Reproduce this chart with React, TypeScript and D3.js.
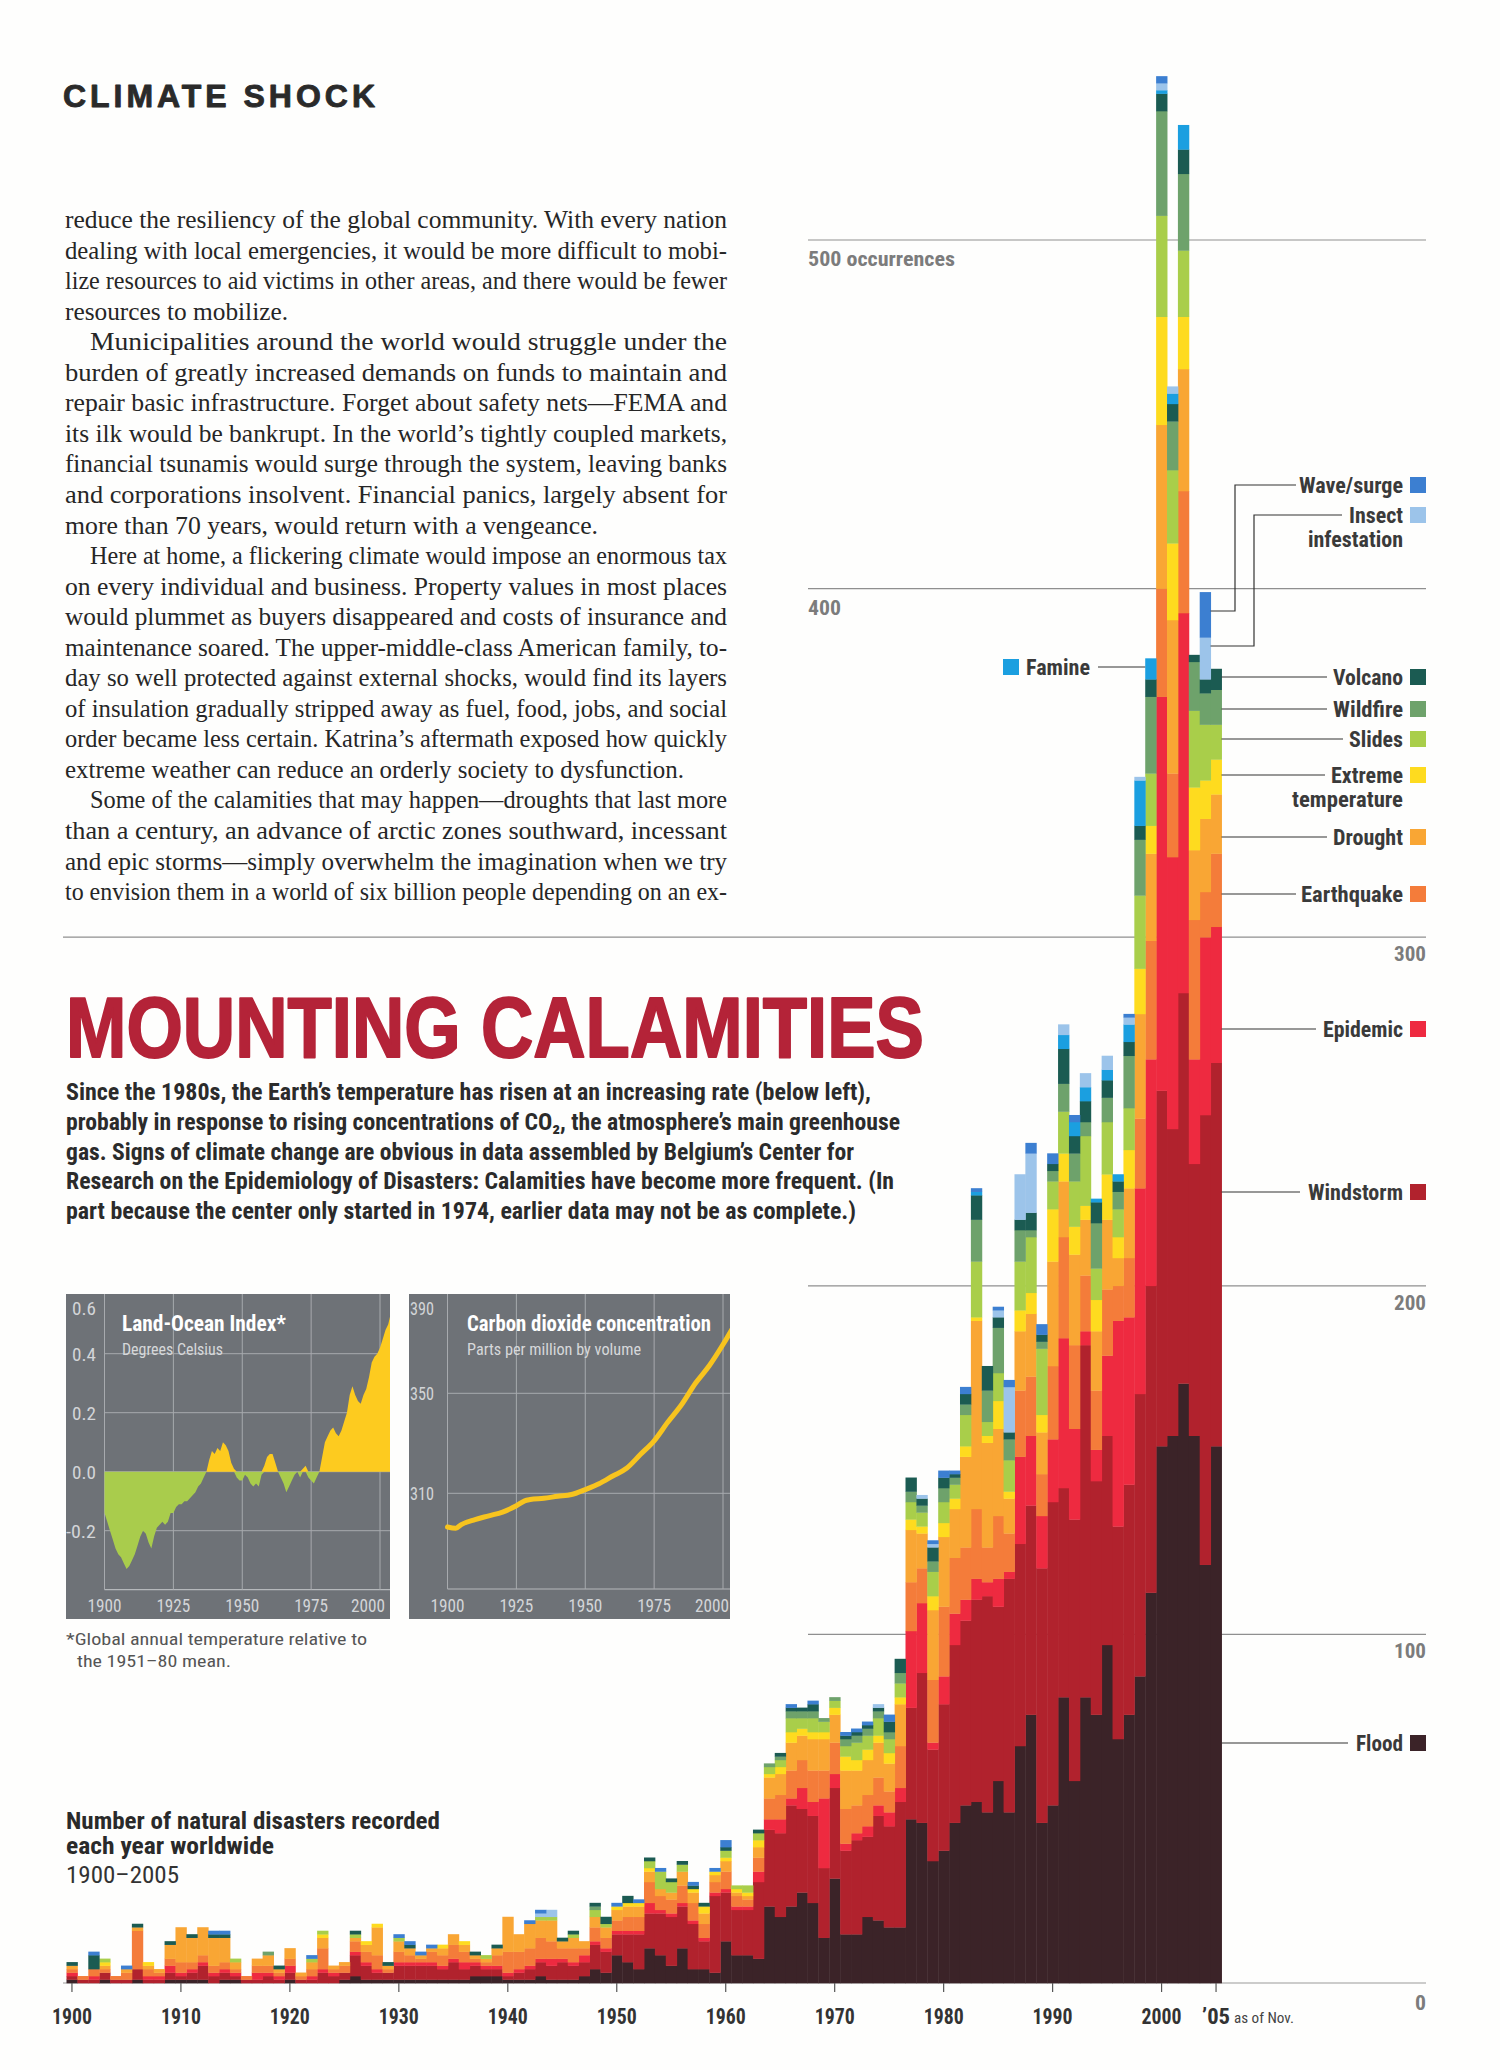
import React from "react";
import * as d3 from "d3";

// ---------------- DATA ----------------
const years: number[] = d3.range(1900, 2006);

const flood = [
  1,0,0,1,0,0,1,0,0,1,
  1,1,1,0,1,1,0,0,0,0,
  1,0,0,0,0,1,2,1,1,1,
  1,1,1,1,1,1,1,2,2,2,
  1,1,1,2,1,1,1,2,4,3,
  8,6,4,10,8,5,10,4,4,3,
  12,8,8,7,22,19,22,26,23,13,
  30,14,14,19,18,16,16,47,46,35,
  38,46,51,52,49,58,49,68,77,46,
  51,82,58,82,77,97,70,77,88,112,
  154,157,172,157,120,154,
];
const windstorm = [
  1,1,1,2,1,1,3,1,1,2,
  1,2,4,2,2,1,1,1,2,1,
  2,1,1,3,2,2,6,4,2,2,
  4,4,4,4,3,5,3,3,2,2,
  1,2,3,4,4,5,4,4,7,6,
  6,8,10,10,12,14,12,13,8,22,
  14,13,13,22,22,24,29,24,25,20,
  26,24,27,23,30,29,36,32,43,32,
  42,51,53,58,62,50,67,58,60,73,
  87,60,75,101,67,60,61,66,81,88,
  102,88,112,78,129,110,
];
const epidemic = [
  1,0,1,0,0,0,0,1,1,2,
  1,1,1,1,1,1,0,2,1,1,
  2,0,1,1,1,0,1,1,1,0,
  1,1,1,1,1,1,2,1,1,1,
  1,1,1,1,2,1,1,2,1,1,
  1,1,1,3,1,1,1,1,1,1,
  1,1,1,3,3,4,2,6,4,20,
  4,2,2,3,3,4,4,22,20,2,
  8,9,6,6,4,8,2,25,20,15,
  18,43,26,4,9,23,59,48,59,65,
  113,78,109,30,51,39,
];
const earthquake = [
  1,1,2,1,1,2,11,2,1,2,
  3,2,2,2,2,1,1,2,2,1,
  2,1,2,6,1,2,3,3,4,1,
  3,2,1,3,3,4,3,1,1,3,
  6,5,5,6,5,3,4,2,4,3,
  3,4,4,6,4,4,5,5,4,3,
  5,3,2,4,6,7,8,8,9,8,
  9,10,8,9,8,6,12,14,10,18,
  20,16,15,20,10,18,11,19,17,12,
  21,29,24,16,17,19,10,17,20,34,
  31,24,35,40,13,21,
];
const drought = [
  1,0,0,1,0,1,1,1,1,4,
  10,7,8,8,7,2,0,2,3,1,
  3,1,2,3,1,1,1,2,8,1,
  3,2,1,1,2,3,2,1,1,2,
  10,5,7,5,6,2,3,2,3,3,
  3,3,3,3,2,2,4,3,3,2,
  3,1,1,3,6,6,8,7,9,9,
  8,11,10,10,10,8,12,15,10,20,
  20,14,26,54,30,25,10,17,18,12,
  30,16,26,16,17,20,8,20,30,25,
  47,44,35,20,21,17,
];
const extremeTemp = [
  0,0,0,1,0,0,0,1,0,0,
  0,0,0,0,0,0,0,0,0,0,
  0,0,0,1,0,0,0,1,1,0,
  0,0,0,0,1,0,1,0,0,0,
  0,0,0,0,0,0,0,0,0,0,
  1,1,1,1,0,0,0,1,2,1,
  1,1,1,2,1,2,3,2,2,2,
  2,4,3,3,2,3,2,3,2,4,
  4,3,3,1,2,8,2,6,6,5,
  15,8,8,4,9,13,6,11,13,8,
  31,22,15,18,11,10,
];
const slides = [
  0,0,0,1,0,0,0,0,0,0,
  0,0,0,0,0,1,0,0,0,0,
  0,0,1,1,0,0,1,0,0,0,
  1,0,0,0,0,0,0,0,1,0,
  0,0,0,1,1,0,1,0,2,1,
  0,0,0,2,5,3,2,0,0,0,
  2,1,2,2,2,2,4,3,4,3,
  2,3,5,4,5,4,4,5,4,7,
  6,4,9,16,4,8,9,14,16,19,
  8,12,13,20,9,15,8,12,21,15,
  29,21,19,22,16,10,
];
const wildfire = [
  0,0,0,0,0,0,0,0,0,0,
  0,0,0,0,0,0,0,0,1,0,
  0,0,0,0,0,0,0,0,0,0,
  0,0,0,0,0,0,0,0,0,0,
  0,0,0,0,0,0,0,0,1,0,
  0,0,0,0,0,0,0,0,0,0,
  0,0,0,0,1,1,2,2,2,1,
  1,2,2,2,2,2,3,3,2,3,
  4,2,3,12,9,13,6,9,2,2,
  3,8,8,4,13,7,5,15,16,22,
  30,14,22,14,9,10,
];
const volcano = [
  1,0,4,0,0,0,1,0,0,1,
  0,1,0,1,1,0,0,0,0,1,
  0,0,0,0,0,0,1,0,0,1,
  0,1,0,0,0,0,0,1,0,1,
  0,0,0,0,0,1,1,0,1,2,
  0,2,0,1,0,1,1,1,1,0,
  1,0,0,1,0,1,1,1,2,0,
  0,1,1,1,1,3,4,4,2,4,
  3,1,3,7,7,3,2,3,5,2,
  2,10,5,6,6,5,3,4,4,5,
  5,5,7,2,4,6,
];
const famine = [
  0,0,0,0,0,0,0,0,0,0,
  0,0,0,0,0,0,0,0,0,0,
  0,0,0,0,0,0,0,0,0,0,
  0,0,0,0,0,0,0,0,0,0,
  0,0,0,0,0,0,0,0,0,0,
  0,0,0,0,0,0,0,0,0,0,
  0,0,0,0,0,0,0,0,0,0,
  0,0,0,0,0,0,0,0,0,0,
  0,0,0,1,0,0,0,0,0,0,
  0,4,4,4,1,3,2,5,13,6,
  1,3,7,0,0,0,
];
const insect = [
  0,0,0,0,0,0,0,0,0,0,
  0,0,0,0,0,0,0,0,0,0,
  0,0,0,0,0,0,0,0,0,0,
  0,0,0,0,0,0,0,0,0,0,
  0,0,0,1,2,0,0,0,0,0,
  0,0,0,0,0,0,0,0,0,0,
  0,0,0,0,0,0,0,0,0,0,
  0,0,0,0,1,0,0,0,1,1,
  0,0,0,0,0,2,13,13,17,0,
  0,3,0,4,0,4,0,2,1,0,
  2,2,0,0,12,0,
];
const wave = [
  0,0,1,0,0,1,0,0,0,0,
  0,0,0,1,1,0,0,0,0,0,
  0,0,1,0,0,0,0,0,0,0,
  1,1,1,1,0,0,0,0,0,0,
  0,0,1,1,0,0,0,0,0,0,
  1,0,1,0,1,0,0,1,0,1,
  2,0,0,0,0,0,1,0,1,0,
  0,1,1,1,0,2,0,0,0,1,
  2,1,2,1,0,1,2,0,3,3,
  3,0,2,0,0,0,0,1,0,0,
  2,0,0,0,13,0,
];

const seriesKeys = ["flood","windstorm","epidemic","earthquake","drought","extremeTemp","slides","wildfire","volcano","famine","insect","wave"];
const seriesValues = [flood, windstorm, epidemic, earthquake, drought, extremeTemp, slides, wildfire, volcano, famine, insect, wave];
const seriesColors = ["#3b2328","#b1222d","#ee2a40","#f47c3a","#f9a634","#fedb1f","#a9ce4a","#6ea26b","#1b5b52","#1b9fe0","#9cc4ea","#3c7fd1"];

const gridValues = [100, 200, 300, 400, 500];
const decadeTicks = [1900,1910,1920,1930,1940,1950,1960,1970,1980,1990,2000,2005];

// Land-Ocean temperature index (deg C), 1900-2004
const tempYears: number[] = d3.range(1900, 2005);
const tempValues = [
  -0.14,-0.17,-0.20,-0.23,-0.26,-0.28,-0.29,-0.31,-0.33,-0.32,
  -0.30,-0.28,-0.25,-0.22,-0.20,-0.21,-0.24,-0.26,-0.22,-0.19,
  -0.18,-0.17,-0.18,-0.17,-0.14,-0.14,-0.12,-0.11,-0.11,-0.10,
  -0.10,-0.09,-0.08,-0.07,-0.05,-0.04,-0.02,0.00,0.04,0.07,
  0.06,0.08,0.07,0.10,0.09,0.07,0.03,0.01,-0.02,-0.03,
  -0.03,-0.01,-0.02,-0.04,-0.05,-0.04,-0.05,-0.01,0.02,0.05,
  0.06,0.06,0.03,0.00,-0.02,-0.04,-0.07,-0.05,-0.03,-0.01,
  0.00,-0.02,0.01,0.02,-0.02,-0.03,-0.04,-0.02,0.00,0.05,
  0.10,0.12,0.14,0.15,0.13,0.12,0.14,0.17,0.20,0.26,
  0.29,0.26,0.24,0.23,0.26,0.28,0.32,0.37,0.39,0.40,
  0.42,0.45,0.48,0.50,0.54,
];
const tempTicks = [0.4, 0.2, 0.0, -0.2];
const tempLabelValues = [0.6, 0.4, 0.2, 0.0, -0.2];
const tempTickLabels = ["0.6","0.4","0.2","0.0","-0.2"];

// CO2 concentration (ppm)
const co2Years = [1900,1903,1905,1910,1915,1920,1925,1928,1930,1935,1940,1945,1950,1955,1960,1965,1970,1975,1980,1985,1990,1995,2000,2004];
const co2Values = [296.5,296.0,297.5,299.5,301.0,302.5,305.0,307.0,307.5,308.0,308.8,309.5,311.5,313.8,316.9,320.0,325.5,331.0,338.5,345.5,354.0,361.0,369.5,377.0];
const co2Ticks = [390, 350, 310];
const smallYearTicks = [1900, 1925, 1950, 1975, 2000];

// ---------------- TEXT ----------------
const bodyLines: [string, number, number][] = [
  ["reduce the resiliency of the global community. With every nation", 0, 662],
  ["dealing with local emergencies, it would be more difficult to mobi-", 0, 662],
  ["lize resources to aid victims in other areas, and there would be fewer", 0, 662],
  ["resources to mobilize.", 0, 223],
  ["Municipalities around the world would struggle under the", 1, 637],
  ["burden of greatly increased demands on funds to maintain and", 0, 662],
  ["repair basic infrastructure. Forget about safety nets\u2014FEMA and", 0, 662],
  ["its ilk would be bankrupt. In the world\u2019s tightly coupled markets,", 0, 662],
  ["financial tsunamis would surge through the system, leaving banks", 0, 662],
  ["and corporations insolvent. Financial panics, largely absent for", 0, 662],
  ["more than 70 years, would return with a vengeance.", 0, 533],
  ["Here at home, a flickering climate would impose an enormous tax", 1, 637],
  ["on every individual and business. Property values in most places", 0, 662],
  ["would plummet as buyers disappeared and costs of insurance and", 0, 662],
  ["maintenance soared. The upper-middle-class American family, to-", 0, 662],
  ["day so well protected against external shocks, would find its layers", 0, 662],
  ["of insulation gradually stripped away as fuel, food, jobs, and social", 0, 662],
  ["order became less certain. Katrina\u2019s aftermath exposed how quickly", 0, 662],
  ["extreme weather can reduce an orderly society to dysfunction.", 0, 619],
  ["Some of the calamities that may happen\u2014droughts that last more", 1, 637],
  ["than a century, an advance of arctic zones southward, incessant", 0, 662],
  ["and epic storms\u2014simply overwhelm the imagination when we try", 0, 662],
  ["to envision them in a world of six billion people depending on an ex-", 0, 662],
];

const subtitleLines: [string, number][] = [
  ["Since the 1980s, the Earth\u2019s temperature has risen at an increasing rate (below left),", 805],
  ["probably in response to rising concentrations of CO\u2082, the atmosphere\u2019s main greenhouse", 834],
  ["gas. Signs of climate change are obvious in data assembled by Belgium\u2019s Center for", 788],
  ["Research on the Epidemiology of Disasters: Calamities have become more frequent. (In", 828],
  ["part because the center only started in 1974, earlier data may not be as complete.)", 790],
];

const SERIF = "'Liberation Serif','Times New Roman',serif";
const SANS = "'Liberation Sans',Arial,sans-serif";
const COND = "'Liberation Sans Narrow','Roboto Condensed','DejaVu Sans Condensed','Arial Narrow','Liberation Sans',sans-serif";

type TP = { x: number; y: number; w?: number; size: number; weight?: string | number; fill?: string; family?: string; anchor?: "start" | "middle" | "end"; adjust?: "spacing" | "spacingAndGlyphs"; stroke?: number; children: React.ReactNode };
function T({ x, y, w, size, weight = "normal", fill = "#333", family = COND, anchor = "start", adjust = "spacingAndGlyphs", stroke, children }: TP) {
  return (
    <text x={x} y={y} fontSize={size} fontWeight={weight} fill={fill} fontFamily={family} textAnchor={anchor}
      textLength={w} lengthAdjust={w ? adjust : undefined}
      stroke={stroke ? fill : undefined} strokeWidth={stroke} strokeLinejoin="round"
      style={{ fontStretch: "condensed" }}>
      {children}
    </text>
  );
}

export default function App() {
  // main chart scales
  const x = d3.scaleBand<number>().domain(years).range([66.5, 1221.5]).paddingInner(0).paddingOuter(0);
  const y = d3.scaleLinear().domain([0, 500]).range([1983, 240]);
  const bw = x.bandwidth();
  const cx = (yr: number) => (x(yr) as number) + bw / 2;

  const rows = years.map((yr, i) => {
    const r: Record<string, number> = { year: yr };
    seriesKeys.forEach((k, j) => { r[k] = seriesValues[j][i]; });
    return r;
  });
  const stacked = d3.stack<Record<string, number>>().keys(seriesKeys)(rows);

  // small chart 1
  const xT = d3.scaleLinear().domain([1900, 2000]).range([104.5, 380]);
  const yT = d3.scaleLinear().domain([0, 0.2]).range([1471.7, 1412.7]);
  const tData = tempYears.map((yr, i) => ({ yr, v: tempValues[i] }));
  const areaPos = d3.area<{ yr: number; v: number }>().x(d => xT(d.yr)).y0(yT(0)).y1(d => yT(Math.max(0, d.v)));
  const areaNeg = d3.area<{ yr: number; v: number }>().x(d => xT(d.yr)).y0(yT(0)).y1(d => yT(Math.min(0, d.v)));

  // small chart 2
  const xC = d3.scaleLinear().domain([1900, 2000]).range([447.5, 723]);
  const yC = d3.scaleLinear().domain([310, 350]).range([1493.3, 1393.3]);
  const co2Line = d3.line<number>().x((_, i) => xC(co2Years[i])).y(d => yC(d)).curve(d3.curveMonotoneX);

  const legendRight = [
    { lines: ["Wave/surge"], ws: [104], y: 485, color: seriesColors[11] },
    { lines: ["Insect", "infestation"], ws: [54, 95], y: 515, color: seriesColors[10] },
    { lines: ["Volcano"], ws: [70], y: 677, color: seriesColors[8] },
    { lines: ["Wildfire"], ws: [70], y: 709, color: seriesColors[7] },
    { lines: ["Slides"], ws: [54], y: 739, color: seriesColors[6] },
    { lines: ["Extreme", "temperature"], ws: [72, 111], y: 775, color: seriesColors[5] },
    { lines: ["Drought"], ws: [70], y: 837, color: seriesColors[4] },
    { lines: ["Earthquake"], ws: [102], y: 894, color: seriesColors[3] },
    { lines: ["Epidemic"], ws: [80], y: 1029, color: seriesColors[2] },
    { lines: ["Windstorm"], ws: [95], y: 1192, color: seriesColors[1] },
    { lines: ["Flood"], ws: [47], y: 1743, color: seriesColors[0] },
  ];
  const barRight = (x(2005) as number) + bw;
  const leader = [
    { y: 677, x2: 1327 }, { y: 709, x2: 1327 }, { y: 739, x2: 1343 }, { y: 775, x2: 1325 },
    { y: 837, x2: 1327 }, { y: 894, x2: 1296 }, { y: 1029, x2: 1316 }, { y: 1192, x2: 1300 }, { y: 1743, x2: 1348 },
  ];
  const edge2004 = (x(2004) as number) + bw;

  return (
    <div style={{ position: "absolute", left: 0, top: 0, width: 1500, height: 2070, background: "#fff" }}>
      <svg width={1500} height={2070} viewBox="0 0 1500 2070" style={{ display: "block" }}>
        <rect x={0} y={0} width={1500} height={2070} fill="#fefefd" />
        <defs>
          <clipPath id="p1"><rect x={66} y={1294} width={324} height={325} /></clipPath>
          <clipPath id="p2"><rect x={409} y={1294} width={321} height={325} /></clipPath>
        </defs>

        {/* header */}
        <T x={63} y={107} w={312} size={32} weight="bold" family={SANS} fill="#2a2a2a" adjust="spacing" stroke={0.9}>CLIMATE SHOCK</T>

        {/* body text */}
        {bodyLines.map(([s, ind, w], i) => (
          <text key={i} x={ind ? 90 : 65} y={228 + i * 30.55} fontSize={24.5} fontFamily={SERIF} fill="#262626"
            textLength={w} lengthAdjust="spacingAndGlyphs">{s}</text>
        ))}

        {/* gridlines */}
        {gridValues.map(v => (
          <line key={v} x1={v === 300 ? 63 : 808} x2={1426} y1={y(v)} y2={y(v)} stroke="#8f8f8f" strokeWidth={1.2} />
        ))}
        <line x1={63} x2={1426} y1={y(0)} y2={y(0)} stroke="#9a9a9a" strokeWidth={1.2} />

        {/* title */}
        <T x={66} y={1057} w={858} size={86} weight="bold" family={SANS} fill="#b42338" stroke={2}>MOUNTING CALAMITIES</T>
        {subtitleLines.map(([s, w], i) => (
          <T key={i} x={66} y={1100 + i * 29.8} w={w} size={24} weight="bold" fill="#2b2b2b">{s}</T>
        ))}

        {/* stacked bars */}
        {stacked.map((layer, li) => (
          <g key={seriesKeys[li]} fill={seriesColors[li]}>
            {layer.map((d, i) => {
              const h = y(d[0]) - y(d[1]);
              if (h <= 0) return null;
              return <rect key={i} x={x(years[i]) as number} y={y(d[1])} width={bw + 0.45} height={h + 0.3} />;
            })}
          </g>
        ))}

        {/* y labels */}
        <T x={808} y={y(500) + 26} w={147} size={21} weight="bold" fill="#7c7c7c">500 occurrences</T>
        <T x={808} y={y(400) + 26} w={33} size={21} weight="bold" fill="#7c7c7c">400</T>
        {[300, 200, 100].map(v => (
          <T key={v} x={1426} y={y(v) + 24} w={32} size={21} weight="bold" fill="#7c7c7c" anchor="end">{String(v)}</T>
        ))}
        <T x={1426} y={y(0) + 27} w={11} size={21} weight="bold" fill="#7c7c7c" anchor="end">0</T>

        {/* x axis */}
        {decadeTicks.map(t => (
          <g key={t}>
            <line x1={cx(t)} x2={cx(t)} y1={y(0)} y2={y(0) + 9} stroke="#555" strokeWidth={1.2} />
            <T x={cx(t)} y={2024} w={t === 2005 ? 28 : 40} size={22} weight="bold" fill="#333" anchor="middle">
              {t === 2005 ? "\u201905" : String(t)}
            </T>
          </g>
        ))}
        <T x={1234} y={2023} w={60} size={15} fill="#444">as of Nov.</T>

        {/* legend right */}
        {legendRight.map((it, i) => (
          <g key={i}>
            {it.lines.map((ln, k) => (
              <T key={k} x={1403} y={it.y + 8 + k * 24} w={it.ws[k]} size={22} weight="bold" fill="#3a3a3a" anchor="end">{ln}</T>
            ))}
            <rect x={1410} y={it.y - 8} width={16} height={16} fill={it.color} />
          </g>
        ))}
        {leader.map((l, i) => (
          <line key={i} x1={barRight} x2={l.x2} y1={l.y} y2={l.y} stroke="#333" strokeWidth={1.2} />
        ))}
        <polyline points={`1296,485 1235,485 1235,611 ${edge2004},611`} fill="none" stroke="#333" strokeWidth={1.2} />
        <polyline points={`1342,515 1254,515 1254,646 ${edge2004},646`} fill="none" stroke="#333" strokeWidth={1.2} />
        {/* famine */}
        <rect x={1003} y={659} width={16} height={16} fill={seriesColors[9]} />
        <T x={1026} y={675} w={64} size={22} weight="bold" fill="#3a3a3a">Famine</T>
        <line x1={1098} x2={x(1999) as number} y1={667} y2={667} stroke="#333" strokeWidth={1.2} />

        {/* chart caption */}
        <T x={66} y={1829} w={374} size={23} weight="bold" fill="#2a2a2a">Number of natural disasters recorded</T>
        <T x={66} y={1854} w={208} size={23} weight="bold" fill="#2a2a2a">each year worldwide</T>
        <T x={66} y={1883} w={113} size={23} fill="#333">1900–2005</T>

        {/* small chart 1 */}
        <rect x={66} y={1294} width={324} height={325} fill="#6e7277" />
        <g clipPath="url(#p1)">
          {tempTicks.map(v => (
            <line key={v} x1={xT(1900)} x2={390} y1={yT(v)} y2={yT(v)} stroke="#a7aaae" strokeWidth={1} />
          ))}
          <line x1={xT(1900)} x2={390} y1={yT(-0.4)} y2={yT(-0.4)} stroke="#b5b8bb" strokeWidth={1.2} />
          {smallYearTicks.map(t => (
            <line key={t} x1={xT(t)} x2={xT(t)} y1={1294} y2={yT(-0.4)} stroke="#a7aaae" strokeWidth={1} />
          ))}
          <path d={areaNeg(tData) || ""} fill="#a9cc4c" />
          <path d={areaPos(tData) || ""} fill="#fdcb1f" />
        </g>
        {tempLabelValues.map((v, i) => (
          <T key={v} x={96} y={v === 0.6 ? 1315 : yT(v) + 7} w={v < 0 ? 30 : 24} size={19} fill="#d3d5d8" anchor="end">{tempTickLabels[i]}</T>
        ))}
        {smallYearTicks.map(t => (
          <T key={t} x={t === 2000 ? xT(t) + 5 : xT(t)} y={1612} w={34} size={19} fill="#d3d5d8" anchor={t === 2000 ? "end" : "middle"}>{String(t)}</T>
        ))}
        <T x={122} y={1331} w={164} size={22} weight="bold" fill="#ffffff">Land-Ocean Index*</T>
        <T x={122} y={1355} w={101} size={17} fill="#d6d8da">Degrees Celsius</T>

        {/* small chart 2 */}
        <rect x={409} y={1294} width={321} height={325} fill="#6e7277" />
        <g clipPath="url(#p2)">
          {[350, 310].map(v => (
            <line key={v} x1={xC(1900)} x2={730} y1={yC(v)} y2={yC(v)} stroke="#a7aaae" strokeWidth={1} />
          ))}
          <line x1={xC(1900)} x2={730} y1={1589} y2={1589} stroke="#b5b8bb" strokeWidth={1.2} />
          {smallYearTicks.map(t => (
            <line key={t} x1={xC(t)} x2={xC(t)} y1={1294} y2={1589} stroke="#a7aaae" strokeWidth={1} />
          ))}
          <path d={co2Line(co2Values) || ""} fill="none" stroke="#f8c41e" strokeWidth={5} strokeLinecap="round" />
        </g>
        {co2Ticks.map(v => (
          <T key={v} x={434} y={v === 390 ? 1315 : yC(v) + 7} w={24} size={19} fill="#d3d5d8" anchor="end">{String(v)}</T>
        ))}
        {smallYearTicks.map(t => (
          <T key={t} x={t === 2000 ? 729 : xC(t)} y={1612} w={34} size={19} fill="#d3d5d8" anchor={t === 2000 ? "end" : "middle"}>{String(t)}</T>
        ))}
        <T x={467} y={1331} w={244} size={22} weight="bold" fill="#ffffff">Carbon dioxide concentration</T>
        <T x={467} y={1355} w={174} size={17} fill="#d6d8da">Parts per million by volume</T>

        {/* footnote */}
        <T x={66} y={1645} w={301} size={17} fill="#555">*Global annual temperature relative to</T>
        <T x={77} y={1667} w={154} size={17} fill="#555">the 1951–80 mean.</T>
      </svg>
    </div>
  );
}
